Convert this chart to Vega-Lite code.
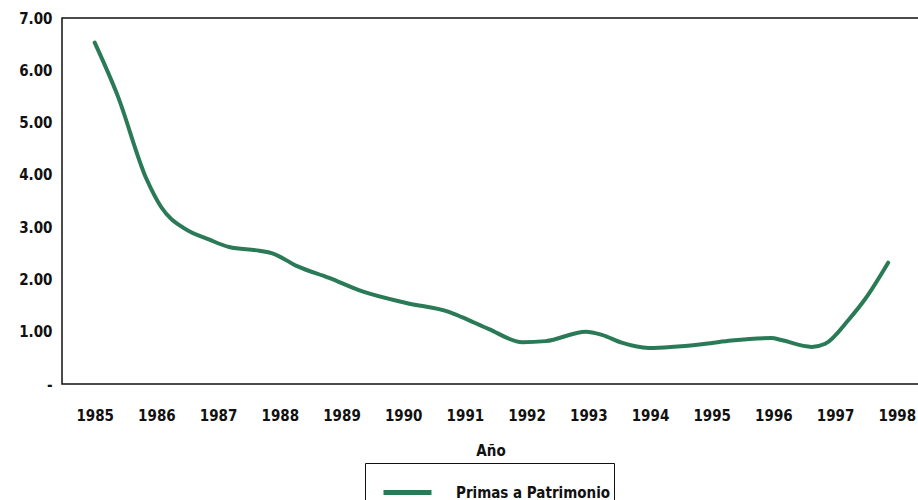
{
  "$schema": "https://vega.github.io/schema/vega-lite/v6.json",
  "autosize": {"type": "none"},
  "padding": {"left": 62, "top": 18, "right": 0, "bottom": 116},
  "width": 857,
  "height": 366,
  "background": "white",
  "config": {
    "font": "Liberation Sans Narrow, DejaVu Sans Condensed, Arial Narrow, sans-serif",
    "view": {"stroke": "#111111", "strokeWidth": 1.5}
  },
  "data": {
    "values": [
      {"anio": 1985.0, "valor": 6.53, "serie": "Primas a Patrimonio"},
      {"anio": 1985.37, "valor": 5.52, "serie": "Primas a Patrimonio"},
      {"anio": 1985.84, "valor": 3.92, "serie": "Primas a Patrimonio"},
      {"anio": 1986.08, "valor": 3.38, "serie": "Primas a Patrimonio"},
      {"anio": 1986.46, "valor": 2.97, "serie": "Primas a Patrimonio"},
      {"anio": 1986.86, "valor": 2.76, "serie": "Primas a Patrimonio"},
      {"anio": 1987.18, "valor": 2.62, "serie": "Primas a Patrimonio"},
      {"anio": 1987.67, "valor": 2.55, "serie": "Primas a Patrimonio"},
      {"anio": 1987.88, "valor": 2.5, "serie": "Primas a Patrimonio"},
      {"anio": 1988.27, "valor": 2.26, "serie": "Primas a Patrimonio"},
      {"anio": 1988.8, "valor": 2.03, "serie": "Primas a Patrimonio"},
      {"anio": 1989.34, "valor": 1.77, "serie": "Primas a Patrimonio"},
      {"anio": 1990.05, "valor": 1.55, "serie": "Primas a Patrimonio"},
      {"anio": 1990.74, "valor": 1.38, "serie": "Primas a Patrimonio"},
      {"anio": 1990.95, "valor": 1.28, "serie": "Primas a Patrimonio"},
      {"anio": 1991.39, "valor": 1.05, "serie": "Primas a Patrimonio"},
      {"anio": 1991.93, "valor": 0.8, "serie": "Primas a Patrimonio"},
      {"anio": 1992.31, "valor": 0.82, "serie": "Primas a Patrimonio"},
      {"anio": 1992.96, "valor": 1.0, "serie": "Primas a Patrimonio"},
      {"anio": 1993.22, "valor": 0.94, "serie": "Primas a Patrimonio"},
      {"anio": 1993.54, "valor": 0.79, "serie": "Primas a Patrimonio"},
      {"anio": 1993.98, "valor": 0.69, "serie": "Primas a Patrimonio"},
      {"anio": 1994.9, "valor": 0.77, "serie": "Primas a Patrimonio"},
      {"anio": 1995.32, "valor": 0.83, "serie": "Primas a Patrimonio"},
      {"anio": 1995.97, "valor": 0.88, "serie": "Primas a Patrimonio"},
      {"anio": 1996.13, "valor": 0.84, "serie": "Primas a Patrimonio"},
      {"anio": 1996.62, "valor": 0.71, "serie": "Primas a Patrimonio"},
      {"anio": 1996.84, "valor": 0.77, "serie": "Primas a Patrimonio"},
      {"anio": 1997.22, "valor": 1.23, "serie": "Primas a Patrimonio"},
      {"anio": 1997.49, "valor": 1.63, "serie": "Primas a Patrimonio"},
      {"anio": 1997.86, "valor": 2.32, "serie": "Primas a Patrimonio"}
    ]
  },
  "mark": {"type": "line", "interpolate": "monotone", "strokeWidth": 4, "strokeCap": "round"},
  "encoding": {
    "x": {
      "field": "anio",
      "type": "quantitative",
      "scale": {"domain": [1984.47, 1998.36], "nice": false, "zero": false},
      "axis": {
        "title": "Año",
        "values": [1985, 1986, 1987, 1988, 1989, 1990, 1991, 1992, 1993, 1994, 1995, 1996, 1997, 1998],
        "format": "d",
        "grid": false,
        "ticks": false,
        "domain": false,
        "labelFontSize": 15,
        "labelFontWeight": "bold",
        "labelColor": "#111111",
        "labelPadding": 24,
        "titleFontSize": 15,
        "titleFontWeight": "bold",
        "titleColor": "#111111",
        "titlePadding": 20
      }
    },
    "y": {
      "field": "valor",
      "type": "quantitative",
      "scale": {"domain": [0, 7], "nice": false},
      "axis": {
        "title": null,
        "values": [0, 1, 2, 3, 4, 5, 6, 7],
        "labelExpr": "datum.value == 0 ? '-' : format(datum.value, '.2f')",
        "grid": false,
        "ticks": false,
        "domain": false,
        "labelFontSize": 15,
        "labelFontWeight": "bold",
        "labelColor": "#111111",
        "labelPadding": 10
      }
    },
    "color": {
      "field": "serie",
      "type": "nominal",
      "scale": {"range": ["#2b7a57"]},
      "legend": {
        "title": null,
        "orient": "none",
        "legendX": 303,
        "legendY": 445,
        "direction": "horizontal",
        "symbolType": "stroke",
        "symbolSize": 2304,
        "symbolStrokeWidth": 5,
        "symbolOffset": 13,
        "labelFontSize": 15,
        "labelFontWeight": "bold",
        "labelColor": "#111111",
        "labelOffset": 22,
        "labelLimit": 400,
        "strokeColor": "#111111",
        "padding": 3,
        "fillColor": "white"
      }
    }
  }
}
